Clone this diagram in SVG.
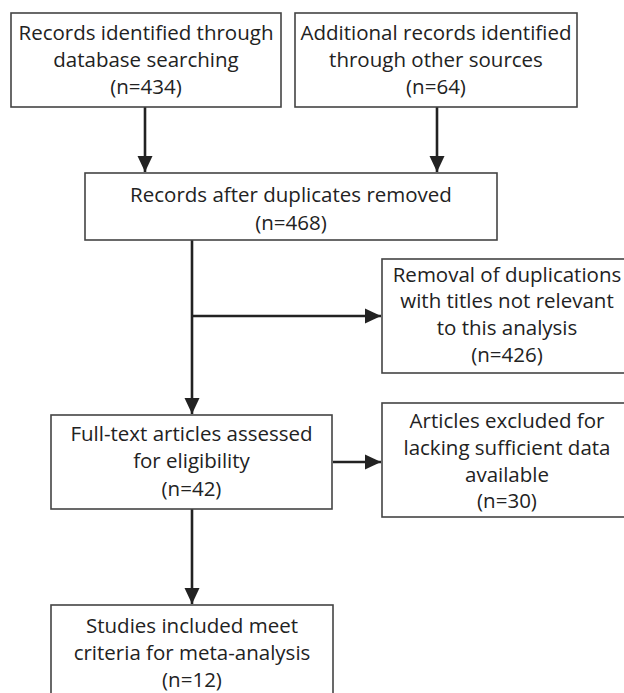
<svg xmlns="http://www.w3.org/2000/svg" width="624" height="693" viewBox="0 0 624 693">
<style>
.box{fill:#fff;stroke:#444;stroke-width:1.6}
.t{font-family:"Open Sans","Noto Sans","Liberation Sans",sans-serif;font-size:20.5px;fill:#222;text-anchor:middle}
.c{stroke:#222;stroke-width:2.6;fill:none}
</style>
<defs>
<marker id="ah" markerUnits="userSpaceOnUse" markerWidth="16" markerHeight="16" viewBox="0 0 16 16" refX="16" refY="8" orient="auto">
<path d="M0,0.5 L16,8 L0,15.5 Z" fill="#222"/>
</marker>
</defs>
<rect width="624" height="693" fill="#fff"/>
<g id="connectors">
<line class="c" x1="145" y1="107" x2="145" y2="172" marker-end="url(#ah)"/>
<line class="c" x1="437" y1="107" x2="437" y2="172" marker-end="url(#ah)"/>
<line class="c" x1="192" y1="240" x2="192" y2="414" marker-end="url(#ah)"/>
<line class="c" x1="192" y1="316" x2="381" y2="316" marker-end="url(#ah)"/>
<line class="c" x1="333" y1="462" x2="381" y2="462" marker-end="url(#ah)"/>
<line class="c" x1="192" y1="509" x2="192" y2="604" marker-end="url(#ah)"/>
</g>
<g id="n1">
<rect class="box" x="11" y="13" width="270" height="94"/>
<text class="t" x="146" y="40">Records identified through</text>
<text class="t" x="146" y="67">database searching</text>
<text class="t" x="146" y="94">(n=434)</text>
</g>
<g id="n2">
<rect class="box" x="295" y="13" width="282" height="94"/>
<text class="t" x="436" y="40">Additional records identified</text>
<text class="t" x="436" y="67">through other sources</text>
<text class="t" x="436" y="94">(n=64)</text>
</g>
<g id="n3">
<rect class="box" x="85" y="173" width="412" height="67"/>
<text class="t" x="291" y="202">Records after duplicates removed</text>
<text class="t" x="291" y="230">(n=468)</text>
</g>
<g id="n4">
<rect class="box" x="382" y="259" width="250" height="114"/>
<text class="t" x="507" y="282">Removal of duplications</text>
<text class="t" x="507" y="308">with titles not relevant</text>
<text class="t" x="507" y="335">to this analysis</text>
<text class="t" x="507" y="362">(n=426)</text>
</g>
<g id="n5">
<rect class="box" x="51" y="415" width="281" height="94"/>
<text class="t" x="191.5" y="441">Full-text articles assessed</text>
<text class="t" x="191.5" y="468">for eligibility</text>
<text class="t" x="191.5" y="496">(n=42)</text>
</g>
<g id="n6">
<rect class="box" x="382" y="403" width="250" height="114"/>
<text class="t" x="507" y="428">Articles excluded for</text>
<text class="t" x="507" y="455">lacking sufficient data</text>
<text class="t" x="507" y="482">available</text>
<text class="t" x="507" y="508">(n=30)</text>
</g>
<g id="n7">
<rect class="box" x="51" y="605" width="282" height="100"/>
<text class="t" x="192" y="633">Studies included meet</text>
<text class="t" x="192" y="660">criteria for meta-analysis</text>
<text class="t" x="192" y="687">(n=12)</text>
</g>
</svg>
